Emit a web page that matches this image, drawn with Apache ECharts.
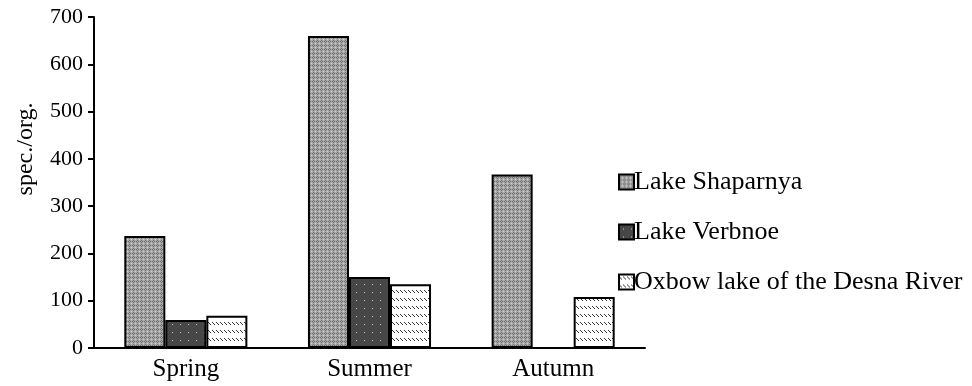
<!DOCTYPE html>
<html>
<head>
<meta charset="utf-8">
<script src="https://cdn.jsdelivr.net/npm/echarts@6/dist/echarts.min.js"></script>
<style>
  html, body { margin: 0; padding: 0; background: #fff; }
  #chart { width: 972px; height: 386px; }
</style>
</head>
<body>
<div id="chart"></div>
<script>
const seasons = ['Spring', 'Summer', 'Autumn']
const shaparnya = [237, 660, 367]
const verbnoe = [59, 150, null]
const oxbow = [68, 135, 108]
const yTicks = [0, 100, 200, 300, 400, 500, 600, 700]

const FONT = "'Liberation Serif', 'Times New Roman', serif"

// small canvas tiles used as bar fills
function makeTile(w, h, draw) {
  const c = document.createElement('canvas')
  c.width = w
  c.height = h
  draw(c.getContext('2d'))
  return c
}

const checkTile = makeTile(4, 4, ctx => {
  ctx.fillStyle = '#a9a9a9'
  ctx.fillRect(0, 0, 4, 4)
  ctx.fillStyle = '#6f6f6f'
  ctx.fillRect(1, 0, 1, 1)
  ctx.fillRect(0, 1, 1, 1)
  ctx.fillRect(2, 1, 1, 1)
  ctx.fillRect(1, 2, 1, 1)
  ctx.fillStyle = '#d4d4d4'
  ctx.fillRect(3, 3, 1, 1)
})

const dotTile = makeTile(8, 8, ctx => {
  ctx.fillStyle = '#474747'
  ctx.fillRect(0, 0, 8, 8)
  ctx.fillStyle = '#c8c8c8'
  ctx.fillRect(4, 4, 1, 1)
})

const hatchTile = makeTile(4, 8, ctx => {
  ctx.fillStyle = '#ffffff'
  ctx.fillRect(0, 0, 4, 8)
  ctx.strokeStyle = '#333'
  ctx.lineWidth = 1
  ctx.beginPath()
  ctx.moveTo(0, 2)
  ctx.lineTo(3, 5)
  ctx.stroke()
})

function barSeries(name, data, tile) {
  return {
    name: name,
    type: 'bar',
    data: data,
    barGap: '0%',
    barCategoryGap: '33%',
    itemStyle: {
      color: { image: tile, repeat: 'repeat' },
      borderColor: '#000',
      borderWidth: 2
    }
  }
}

const chart = echarts.init(document.getElementById('chart'))
chart.setOption({
  animation: false,
  backgroundColor: '#fff',
  grid: { left: 94, right: 327, top: 17, bottom: 38 },
  legend: {
    orient: 'vertical',
    left: 613,
    top: 164,
    itemWidth: 15,
    itemHeight: 15,
    itemGap: 24,
    icon: 'rect',
    textStyle: { fontFamily: FONT, fontSize: 26, color: '#000', padding: [0, 0, 0, -5] },
    data: ['Lake Shaparnya', 'Lake Verbnoe', 'Oxbow lake of the Desna River']
  },
  xAxis: {
    type: 'category',
    data: seasons,
    axisLine: { lineStyle: { color: '#000', width: 2 } },
    axisTick: { inside: true, length: 7, lineStyle: { color: '#000', width: 2 } },
    axisLabel: { fontFamily: FONT, fontSize: 25, color: '#000', margin: 9 }
  },
  yAxis: {
    type: 'value',
    min: yTicks[0],
    max: yTicks[yTicks.length - 1],
    interval: 100,
    axisLine: { show: true, lineStyle: { color: '#000', width: 2 } },
    axisTick: { show: true, length: 6, lineStyle: { color: '#000', width: 2 } },
    splitLine: { show: false },
    axisLabel: { fontFamily: FONT, fontSize: 22, color: '#000', margin: 11 }
  },
  graphic: [{
    type: 'text',
    x: 26,
    y: 149,
    rotation: Math.PI / 2,
    style: {
      text: 'spec./org.',
      fontFamily: FONT,
      fontSize: 24,
      fill: '#000',
      align: 'center',
      verticalAlign: 'middle'
    }
  }],
  series: [
    barSeries('Lake Shaparnya', shaparnya, checkTile),
    barSeries('Lake Verbnoe', verbnoe, dotTile),
    barSeries('Oxbow lake of the Desna River', oxbow, hatchTile)
  ]
})
</script>
</body>
</html>
